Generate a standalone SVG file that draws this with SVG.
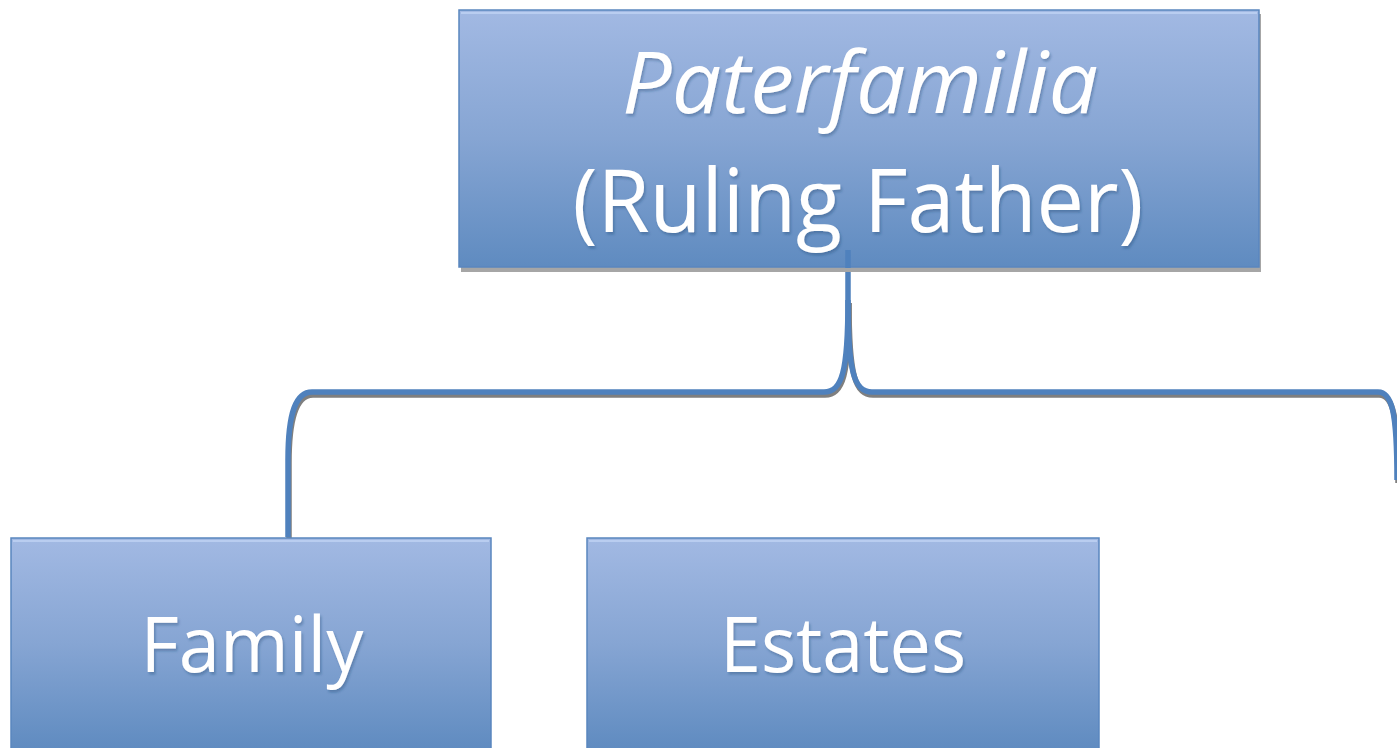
<svg xmlns="http://www.w3.org/2000/svg" width="1397" height="748" viewBox="0 0 1397 748">
<style>
.box{fill:url(#g);stroke:#5a86bf;stroke-width:1.5}
.hl{stroke:#b9cdf0;stroke-width:2}
.t{font-family:"Open Sans","Noto Sans",sans-serif;fill:#fff;text-anchor:middle;filter:url(#ts)}
.con{fill:none;stroke:#4f81bd;stroke-width:5.5;stroke-linejoin:round}
.conS{fill:none;stroke:#7f7f7f;stroke-width:5.5;stroke-linejoin:round}
</style>
<defs>
<linearGradient id="g" x1="0" y1="0" x2="0" y2="1">
<stop offset="0" stop-color="#a2b9e3"/>
<stop offset="0.5" stop-color="#86a5d3"/>
<stop offset="1" stop-color="#5f8bc0"/>
</linearGradient>
<filter id="ts" x="-10%" y="-20%" width="120%" height="140%">
<feDropShadow dx="1.5" dy="2.5" stdDeviation="1.2" flood-color="#1f3f6f" flood-opacity="0.35"/>
</filter>
</defs>
<g id="connectors">
<path class="conS" transform="translate(1,3)" d="M848,300 C848,372 842,392 824,392 L312,392 C296,392 288,412 288,460 L288,537"/>
<path class="conS" transform="translate(1,3)" d="M848,300 C848,372 854,392 872,392 L1378,392 C1392,392 1397,412 1397,480"/>
<path class="con" d="M848,250 L848,300 C848,372 842,392 824,392 L312,392 C296,392 288,412 288,460 L288,537"/>
<path class="con" d="M848,300 C848,372 854,392 872,392 L1378,392 C1392,392 1397,412 1397,480"/>
</g>
<g id="node-top">
<rect x="461" y="14" width="800" height="258" fill="#a6a6a6"/>
<rect class="box" x="459" y="10" width="800" height="257"/>
<line class="hl" x1="461" y1="13" x2="1257" y2="13"/>
<path class="con" d="M848,250 L848,268"/>
<text class="t" x="860" y="113" font-size="86" font-style="italic" textLength="476" lengthAdjust="spacingAndGlyphs">Paterfamilia</text>
<text class="t" x="858" y="232" font-size="88" textLength="571" lengthAdjust="spacingAndGlyphs">(Ruling Father)</text>
</g>
<g id="node-family">
<rect class="box" x="11" y="538" width="480" height="212"/>
<line class="hl" x1="13" y1="541" x2="489" y2="541"/>
<text class="t" x="252" y="672" font-size="76" textLength="223" lengthAdjust="spacingAndGlyphs">Family</text>
</g>
<g id="node-estates">
<rect class="box" x="587" y="538" width="512" height="212"/>
<line class="hl" x1="589" y1="541" x2="1097" y2="541"/>
<text class="t" x="843" y="672" font-size="76" textLength="246" lengthAdjust="spacingAndGlyphs">Estates</text>
</g>
</svg>
